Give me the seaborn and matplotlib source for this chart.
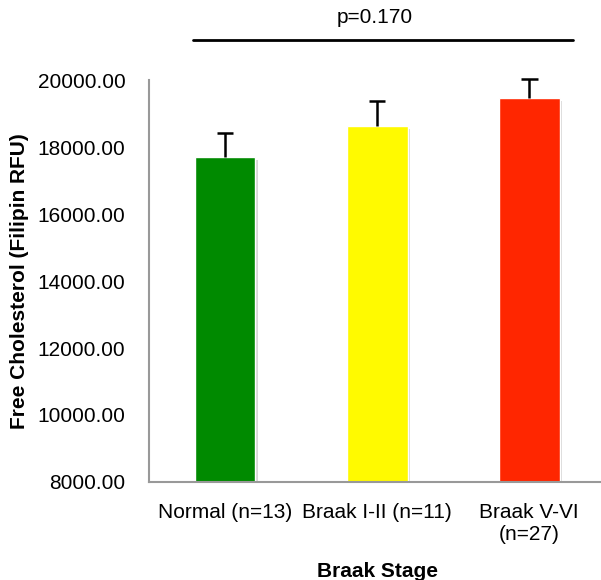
import numpy as np
import pandas as pd
import matplotlib
matplotlib.use("Agg")
import matplotlib.pyplot as plt
import matplotlib.patheffects as pe
import seaborn as sns

# data
groups = ["Normal (n=13)", "Braak I-II (n=11)", "Braak V-VI\n(n=27)"]
means = [17690, 18620, 19460]
sem = [730, 750, 560]
colors = ["#008A00", "#FFFA00", "#FF2600"]
yticks = [8000, 10000, 12000, 14000, 16000, 18000, 20000]
p_text = "p=0.170"

sns.set_style("white")
plt.rcParams["font.family"] = ["Liberation Sans", "DejaVu Sans"]
plt.rcParams["text.color"] = "black"
plt.rcParams["axes.labelcolor"] = "black"
plt.rcParams["xtick.labelcolor"] = "black"
plt.rcParams["ytick.labelcolor"] = "black"

df = pd.DataFrame({"group": groups, "mean": means})

fig = plt.figure(figsize=(6.01, 5.80), dpi=100)
ax = fig.add_axes([0.248, 0.169, 0.759, 0.693])

sns.barplot(data=df, x="group", y="mean", hue="group", palette=colors,
            width=0.4, errorbar=None, legend=False, saturation=1, ax=ax)
for bar in ax.patches:
    bar.set_path_effects([pe.SimplePatchShadow(offset=(2, -2), shadow_rgbFace="#bbbbbb", alpha=0.6), pe.Normal()])

# upper-only error bars
xs = np.arange(len(means))
tops = np.array(means) + np.array(sem)
ax.vlines(xs, means, tops, color="black", lw=1.8, zorder=5, clip_on=False)
ax.hlines(tops, xs - 0.055, xs + 0.055, color="black", lw=1.8, zorder=5, clip_on=False)

ax.set_ylim(8000, 20000)
ax.set_xlim(-0.5, 2.5)
ax.set_yticks(yticks)
ax.set_yticklabels([f"{v:.2f}" for v in yticks], fontsize=15, color="black")
ax.set_xticks([-0.5, 0.5, 1.5], minor=False, labels=["", "", ""])
ax.set_xticks([0, 1, 2], minor=True, labels=groups, fontsize=15, color="black")
ax.tick_params(axis="x", which="minor", length=0, pad=15)
ax.tick_params(axis="x", which="major", length=5, width=1.5, color="#999999", direction="out")
ax.tick_params(axis="y", length=5, width=1.5, color="#999999", pad=12, direction="out")
for lbl in ax.get_xticklabels(minor=True):
    lbl.set_multialignment("center")

sns.despine(ax=ax)
for s in ["left", "bottom"]:
    ax.spines[s].set_color("#999999")
    ax.spines[s].set_linewidth(1.5)

ax.set_ylabel("Free Cholesterol (Filipin RFU)", fontsize=15, fontweight="bold", labelpad=6, color="black")
ax.set_xlabel("Braak Stage", fontsize=15, fontweight="bold", labelpad=13, color="black")

fig.add_artist(plt.Line2D([0.321, 0.953], [0.931, 0.931], color="black", lw=2))
fig.text(0.624, 0.969, p_text, ha="center", va="center", fontsize=15, color="black")

fig.savefig("out.png", dpi=100)
